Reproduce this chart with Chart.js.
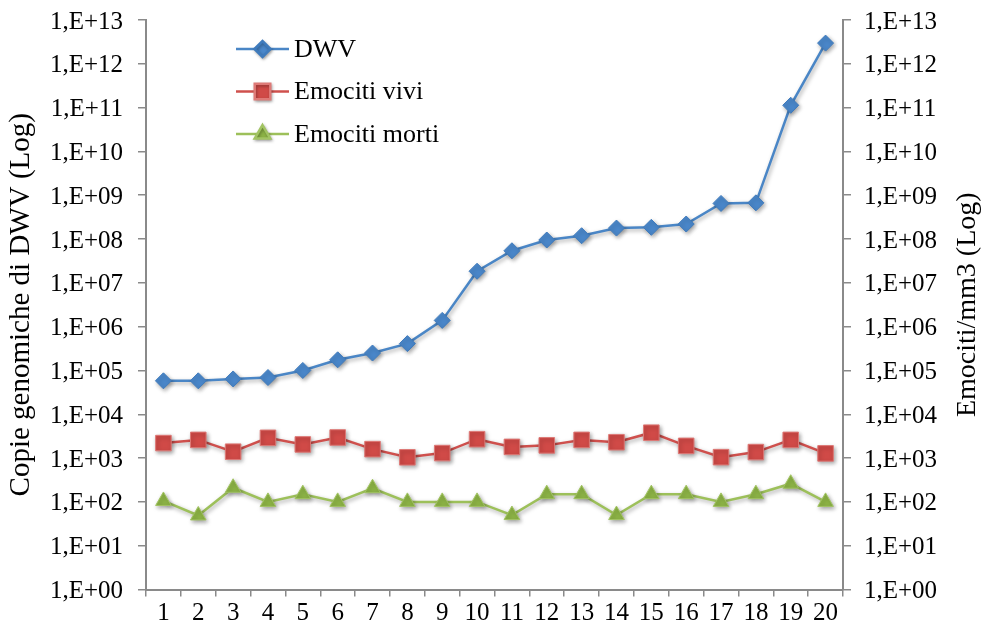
<!DOCTYPE html>
<html>
<head>
<meta charset="utf-8">
<style>
  html, body { margin: 0; padding: 0; background: #ffffff; }
  #wrap { width: 988px; height: 636px; }
</style>
<script src="https://cdn.jsdelivr.net/npm/chart.js@4.4.1/dist/chart.umd.min.js"></script>
</head>
<body>
<div id="wrap"><canvas id="c" width="988" height="636"></canvas></div>
<script>
// Sampling points (x axis)
const days = ['1','2','3','4','5','6','7','8','9','10','11','12','13','14','15','16','17','18','19','20'];

// DWV genome copies
const dwvCopies = [5.8e4, 5.8e4, 6.4e4, 6.9e4, 1.0e5, 1.75e5, 2.5e5, 4.1e5, 1.39e6, 1.84e7,
                   5.4e7, 9.5e7, 1.19e8, 1.78e8, 1.85e8, 2.2e8, 6.5e8, 6.7e8, 1.13e11, 2.97e12];

// Living haemocytes per mm3
const emocitiVivi = [2200, 2600, 1400, 2900, 2050, 2950, 1600, 1040, 1300, 2700,
                     1800, 1950, 2600, 2300, 3800, 1900, 1050, 1370, 2600, 1280];

// Dead haemocytes per mm3
const emocitiMorti = [105, 49, 210, 100, 150, 100, 205, 100, 100, 100,
                      50, 150, 150, 50, 150, 150, 100, 150, 260, 100];

// Decade exponents used as tick positions on both log axes
const tickExponents = [0, 1, 2, 3, 4, 5, 6, 7, 8, 9, 10, 11, 12, 13];

const seriesNames = ['DWV', 'Emociti vivi', 'Emociti morti'];
const leftTitle = 'Copie genomiche di DWV (Log)';
const rightTitle = 'Emociti/mm3 (Log)';

const SERIF = '"Liberation Serif", "Times New Roman", serif';
const AXIS_GREY = '#8a8a8a';

function sciLabel(v) {
  const e = Math.round(Math.log10(v));
  return '1,E+' + String(e).padStart(2, '0');
}

function decadeTicks(scale) {
  scale.ticks = tickExponents.map(e => ({ value: Math.pow(10, e) }));
}

// Keep the plot box fixed: no extra room reserved for half-labels
function fixedWidth(w) {
  return function (s) {
    s.width = w;
    s.paddingTop = 0;
    s.paddingBottom = 0;
  };
}

// Soft drop shadow under lines and markers
const shadowPlugin = {
  id: 'seriesShadow',
  beforeDatasetsDraw(chart) {
    const ctx = chart.ctx;
    ctx.save();
    ctx.shadowColor = 'rgba(0,0,0,0.35)';
    ctx.shadowBlur = 4;
    ctx.shadowOffsetX = 1.5;
    ctx.shadowOffsetY = 2;
  },
  afterDatasetsDraw(chart) {
    chart.ctx.restore();
  }
};

// Right-hand axis title, reading bottom to top like the left one
const rightTitlePlugin = {
  id: 'rightTitle',
  afterDraw(chart) {
    const ctx = chart.ctx;
    const area = chart.chartArea;
    ctx.save();
    ctx.translate(968, (area.top + area.bottom) / 2);
    ctx.rotate(-Math.PI / 2);
    ctx.fillStyle = '#000000';
    ctx.font = '28px ' + SERIF;
    ctx.textAlign = 'center';
    ctx.textBaseline = 'middle';
    ctx.fillText(rightTitle, 0, 0);
    ctx.restore();
  }
};

// Vertical legend placed inside the plot, top-left
const insideLegend = {
  id: 'insideLegend',
  afterDraw(chart) {
    const ctx = chart.ctx;
    const x0 = 236, x1 = 289, textX = 294, y0 = 49, gap = 42.5;
    chart.data.datasets.forEach((ds, i) => {
      const y = y0 + i * gap;
      ctx.save();
      ctx.strokeStyle = ds.borderColor;
      ctx.lineWidth = ds.borderWidth;
      ctx.beginPath();
      ctx.moveTo(x0, y);
      ctx.lineTo(x1, y);
      ctx.stroke();
      ctx.fillStyle = ds.pointBackgroundColor;
      ctx.strokeStyle = ds.pointBorderColor;
      ctx.shadowColor = 'rgba(0,0,0,0.3)';
      ctx.shadowBlur = 3;
      ctx.shadowOffsetX = 1;
      ctx.shadowOffsetY = 1.5;
      Chart.helpers.drawPoint(ctx, {
        pointStyle: ds.pointStyle,
        radius: ds.pointRadius,
        borderWidth: ds.pointBorderWidth,
        rotation: 0
      }, (x0 + x1) / 2, y);
      ctx.restore();
      ctx.save();
      ctx.fillStyle = '#000000';
      ctx.font = '26px ' + SERIF;
      ctx.textAlign = 'left';
      ctx.textBaseline = 'middle';
      ctx.fillText(ds.label, textX, y + 1);
      ctx.restore();
    });
  }
};

const yAxisCommon = {
  type: 'logarithmic',
  min: 1,
  max: 1e13,
  afterBuildTicks: decadeTicks,
  grid: { display: true, drawOnChartArea: false, drawTicks: true, tickLength: 8, color: AXIS_GREY, lineWidth: 1.5 },
  border: { display: true, color: AXIS_GREY, width: 2 },
};

new Chart(document.getElementById('c'), {
  type: 'line',
  data: {
    labels: days,
    datasets: [
      {
        label: seriesNames[0],
        data: dwvCopies,
        yAxisID: 'y',
        borderColor: '#4A86C6',
        borderWidth: 2.5,
        pointStyle: 'rectRot',
        pointRadius: 8,
        pointBackgroundColor: '#4A87CA',
        pointBorderColor: '#3F7BBD',
        pointBorderWidth: 1,
        tension: 0
      },
      {
        label: seriesNames[1],
        data: emocitiVivi,
        yAxisID: 'y1',
        borderColor: '#CF504D',
        borderWidth: 2.5,
        pointStyle: 'rect',
        pointRadius: 11,
        pointBackgroundColor: '#D04A47',
        pointBorderColor: '#DE7A77',
        pointBorderWidth: 1,
        tension: 0
      },
      {
        label: seriesNames[2],
        data: emocitiMorti,
        yAxisID: 'y1',
        borderColor: '#9DC05A',
        borderWidth: 2.5,
        pointStyle: 'triangle',
        pointRadius: 9,
        pointBackgroundColor: '#8DB446',
        pointBorderColor: '#A2C463',
        pointBorderWidth: 1,
        tension: 0
      }
    ]
  },
  options: {
    responsive: false,
    animation: false,
    devicePixelRatio: 1,
    layout: { padding: { top: 20, left: 0, right: 0, bottom: 0 } },
    plugins: {
      legend: { display: false },
      tooltip: { enabled: false }
    },
    scales: {
      x: {
        type: 'category',
        offset: true,
        grid: { display: true, offset: true, drawOnChartArea: false, drawTicks: true, tickLength: 7, color: AXIS_GREY, lineWidth: 1.5 },
        border: { display: true, color: AXIS_GREY, width: 2 },
        ticks: { color: '#000000', font: { family: SERIF, size: 25 }, padding: 2, maxRotation: 0, autoSkip: false },
        afterFit(s) { s.height = 46.5; s.paddingLeft = 0; s.paddingRight = 0; }
      },
      y: Object.assign({}, yAxisCommon, {
        position: 'left',
        ticks: { color: '#000000', font: { family: SERIF, size: 25 }, padding: 15, labelOffset: 2, callback: v => sciLabel(v) },
        title: { display: true, text: leftTitle, color: '#000000', font: { family: SERIF, size: 29 }, padding: { top: 4, bottom: 0 } },
        afterFit: fixedWidth(146)
      }),
      y1: Object.assign({}, yAxisCommon, {
        position: 'right',
        ticks: { color: '#000000', font: { family: SERIF, size: 25 }, padding: 13, labelOffset: 2, callback: v => sciLabel(v) },
        afterFit: fixedWidth(145)
      })
    }
  },
  plugins: [shadowPlugin, insideLegend, rightTitlePlugin]
});
</script>
</body>
</html>
